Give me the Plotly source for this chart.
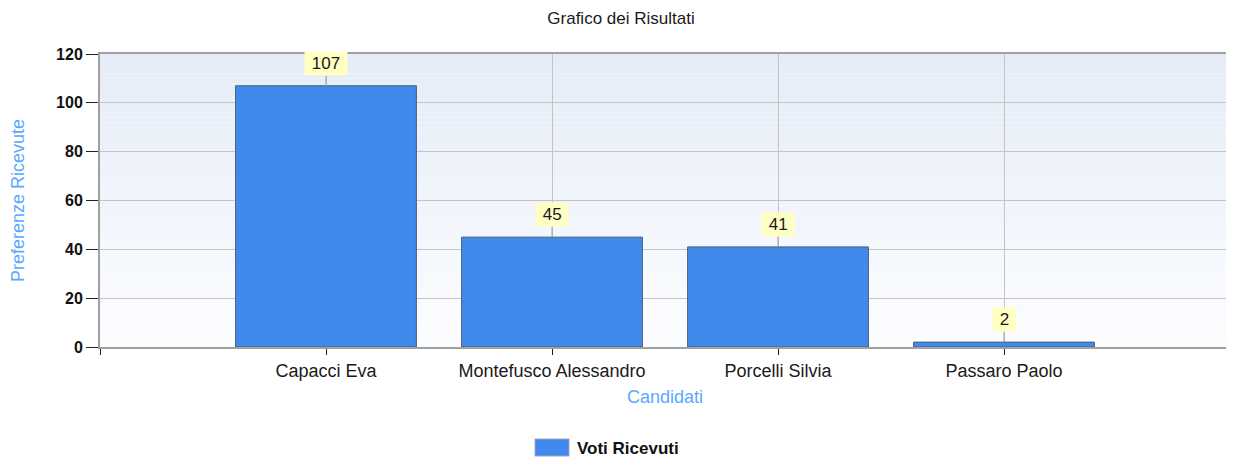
import plotly.graph_objects as go

categories = ["Capacci Eva", "Montefusco Alessandro", "Porcelli Silvia", "Passaro Paolo"]
values = [107, 45, 41, 2]
series_name = "Voti Ricevuti"
title = "Grafico dei Risultati"
x_title = "Candidati"
y_title = "Preferenze Ricevute"
y_ticks = [0, 20, 40, 60, 80, 100, 120]

FONT = "Liberation Sans"
BAR_COLOR = "#418AEC"
BAR_LINE = "#4A5F7A"
positions = list(range(len(categories)))

W, H = 1226, 453

fig = go.Figure()
fig.add_trace(go.Bar(
    x=positions, y=values, name=series_name, width=0.8,
    marker=dict(color=BAR_COLOR, line=dict(color=BAR_LINE, width=1)),
    showlegend=False,
))

# gradient background via thin bands
n = 60
for i in range(n):
    t = i / (n - 1)
    top = (229, 236, 247)
    bot = (252, 253, 255)
    c = tuple(round(top[k] + (bot[k] - top[k]) * t) for k in range(3))
    fig.add_shape(type="rect", xref="x domain", yref="y domain",
                  x0=0, x1=1, y0=1 - (i + 1) / n, y1=1 - i / n,
                  fillcolor="rgb(%d,%d,%d)" % c, line=dict(width=0), layer="below")

for p, v in zip(positions, values):
    fig.add_annotation(x=p, y=v, text="&nbsp;%d&nbsp;" % v, showarrow=True, arrowhead=0,
                       arrowcolor="#A0A0A0", arrowwidth=1, ax=0, ay=-10,
                       yanchor="bottom",
                       bgcolor="#FFFFC4", borderpad=2,
                       font=dict(family=FONT, size=17, color="#1a1a1a"))

# legend (custom swatch + label)
fig.add_shape(type="rect", xref="paper", yref="paper",
              x0=(527 - 92) / (W - 96), x1=(561 - 92) / (W - 96),
              y0=-(431 - 339 + 17) / (339 - 46), y1=-(431 - 339) / (339 - 46),
              fillcolor=BAR_COLOR, line=dict(color="#9AA8BA", width=1))
fig.add_annotation(xref="paper", yref="paper", x=(567 - 92) / (W - 96),
                   y=-(440 - 339) / (339 - 46), xanchor="left", yanchor="middle",
                   text="<b>%s</b>" % series_name, showarrow=False,
                   font=dict(family=FONT, size=17, color="#111111"))

tickvals = [-1] + positions + [len(categories)]
ticktext = [""] + categories + [""]

fig.update_layout(
    width=W, height=H,
    margin=dict(l=92, r=4, t=46, b=114, autoexpand=False),
    paper_bgcolor="white", plot_bgcolor="rgba(0,0,0,0)",
    title=dict(text=title, x=0.5, xanchor="center", y=1 - 4 / H, yanchor="top",
               font=dict(family=FONT, size=17, color="#1a1a1a")),
    font=dict(family=FONT, size=18, color="#1a1a1a"),
    showlegend=False,
)
fig.update_xaxes(
    range=[-1, len(categories)], tickmode="array", tickvals=tickvals, ticktext=ticktext,
    showgrid=True, gridcolor="#C4C4C4", gridwidth=1,
    ticks="outside", ticklen=6, tickcolor="#222222",
    showline=True, linecolor="#A0A0A0", linewidth=2, mirror=True,
    tickfont=dict(family=FONT, size=18, color="#1a1a1a"),
    title=dict(text=x_title, font=dict(family=FONT, size=18, color="#5AA8FF"), standoff=11),
    zeroline=False, automargin=False,
)
fig.update_yaxes(
    range=[0, 120], tickmode="array", tickvals=y_ticks,
    showgrid=True, gridcolor="#C4C4C4", gridwidth=1,
    ticks="outside", ticklen=12, tickcolor="#222222",
    showline=True, linecolor="#A0A0A0", linewidth=2, mirror=True,
    tickfont=dict(family=FONT, size=16, color="#111111", weight="bold"),
    title=dict(text=y_title, font=dict(family=FONT, size=18, color="#5AA8FF"), standoff=33),
    zeroline=False, automargin=False,
)

fig.write_html("out.html")
